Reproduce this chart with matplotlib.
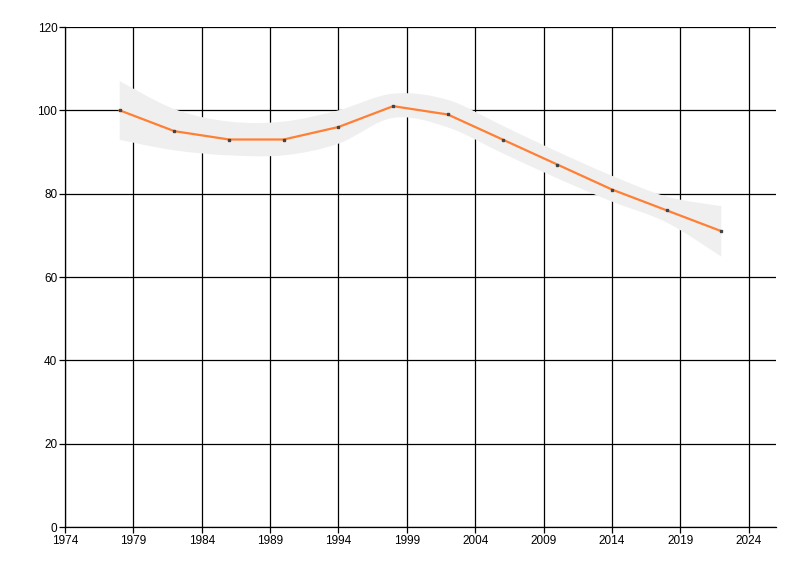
import matplotlib
matplotlib.use("Agg")
import matplotlib.pyplot as plt
from matplotlib.path import Path
from matplotlib.patches import PathPatch
import numpy as np

years = [1978, 1982, 1986, 1990, 1994, 1998, 2002, 2006, 2010, 2014, 2018, 2022]
values = [100, 95, 93, 93, 96, 101, 99, 93, 87, 81, 76, 71]
upper = [107.0, 100.3, 97.3, 97.3, 100.0, 104.0, 102.5, 96.3, 90.1, 84.3, 79.3, 77.0]
lower = [92.9, 90.4, 89.2, 89.2, 92.0, 98.2, 95.9, 89.7, 83.7, 78.1, 73.1, 64.9]
xticks = list(range(1974, 2025, 5))
yticks = list(range(0, 121, 20))


def spline_segments(xs, ys, t=0.5):
    """Cardinal spline -> cubic Bezier vertices (excluding first point)."""
    pts = np.column_stack([xs, ys]).astype(float)
    n = len(pts)
    verts = []
    for i in range(n - 1):
        p0 = pts[i - 1] if i > 0 else pts[i]
        p1 = pts[i]
        p2 = pts[i + 1]
        p3 = pts[i + 2] if i + 2 < n else pts[i + 1]
        c1 = p1 + (p2 - p0) * t / 3.0
        c2 = p2 - (p3 - p1) * t / 3.0
        verts += [tuple(c1), tuple(c2), tuple(p2)]
    return verts


fig = plt.figure(figsize=(8, 5.76), dpi=100)
ax = fig.add_axes([65 / 800, 49 / 576, 711 / 800, 500 / 576])

# band
up_v = spline_segments(years, upper, 0.5)
lo_v = spline_segments(years[::-1], lower[::-1], 0.5)
verts = [(years[0], upper[0])] + up_v + [(years[-1], lower[-1])] + lo_v + [(years[0], upper[0])]
codes = [Path.MOVETO] + [Path.CURVE4] * len(up_v) + [Path.LINETO] + [Path.CURVE4] * len(lo_v) + [Path.CLOSEPOLY]
ax.add_patch(PathPatch(Path(verts, codes), facecolor="#efefef", edgecolor="none", zorder=1))

ax.set_xlim(1974, 2026)
ax.set_ylim(0, 120)
ax.set_xticks(xticks)
ax.set_yticks(yticks)
ax.grid(True, color="black", linewidth=0.9, zorder=0)
ax.set_axisbelow(True)
for s in ["top", "right"]:
    ax.spines[s].set_visible(False)
for s in ["left", "bottom"]:
    ax.spines[s].set_linewidth(0.9)

ax.plot(years, values, color="#ff7f34", linewidth=1.6, zorder=3)
ax.plot(years, values, linestyle="none", marker="s", markersize=2, color="#444444", zorder=4)

ax.tick_params(axis="both", length=4, width=0.9, labelsize=8.5, pad=1.5, colors="black")
for lab in ax.get_xticklabels() + ax.get_yticklabels():
    lab.set_fontfamily("Liberation Sans")

fig.savefig("out.png", dpi=100)
